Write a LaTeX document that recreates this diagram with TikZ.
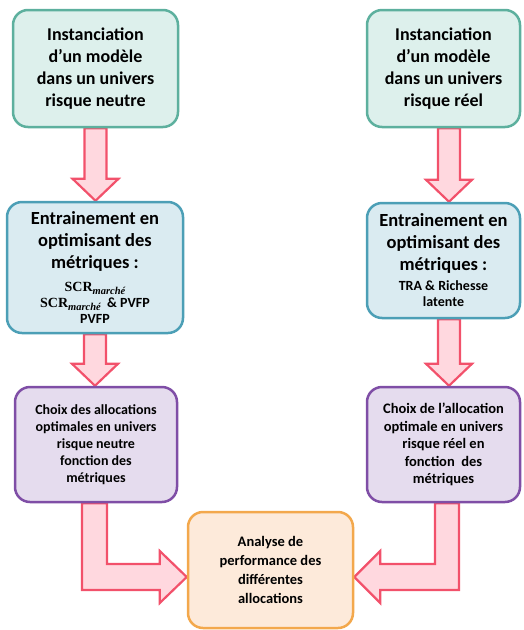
\documentclass[tikz,border=0pt]{standalone}
\usepackage{fontspec}
\setmainfont{Carlito}
\newfontfamily\serifb{Liberation Serif}
\usetikzlibrary{calc,backgrounds}
\definecolor{tealb}{HTML}{5DB09E}
\definecolor{tealf}{HTML}{DDF0EC}
\definecolor{blueb}{HTML}{4C9FB6}
\definecolor{bluef}{HTML}{DAEBF1}
\definecolor{purpb}{HTML}{7F4EA6}
\definecolor{purpf}{HTML}{E5DCEE}
\definecolor{orab}{HTML}{F3A84C}
\definecolor{oraf}{HTML}{FDEADA}
\definecolor{arrb}{HTML}{F2516B}
\definecolor{arrf}{HTML}{FFD8DF}
\newcommand\smallline{\fontsize{14}{16}\selectfont}
\newcommand\scrm{{\serifb\bfseries SCR}\raisebox{-0.45ex}{\serifb\bfseries\itshape\fontsize{10.5}{10.5}\selectfont marché}}
\newcommand\blkdown[3]{%
\draw[barrow] let \p1=(#1.south), \p2=(#2.north) in
 (\x1+#3-11,\y1) -- (\x1+#3-11,\y2+22) -- (\x1+#3-23,\y2+22) -- (\x1+#3,\y2)
 -- (\x1+#3+23,\y2+22) -- (\x1+#3+11,\y2+22) -- (\x1+#3+11,\y1) -- cycle;}
\begin{document}
\begin{tikzpicture}[x=1pt,y=-1pt,
  box/.style={rounded corners=15pt, line width=2.5pt, align=center, inner sep=0pt},
  tealbox/.style={box, draw=tealb, fill=tealf, font=\bfseries\fontsize{18}{22}\selectfont},
  bluebox/.style={box, draw=blueb, fill=bluef, font=\bfseries\fontsize{18.5}{22}\selectfont},
  purpbox/.style={box, draw=purpb, fill=purpf, font=\bfseries\fontsize{14}{17}\selectfont},
  orabox/.style={box, draw=orab, fill=oraf, font=\bfseries\fontsize{14.5}{19}\selectfont},
  barrow/.style={draw=arrb, fill=arrf, line width=2.2pt, line join=miter}]
\path[use as bounding box] (0,0) rectangle (523,630);

\node[tealbox, minimum width=165pt, minimum height=117pt] (b1) at (95.5,68.5)
  {Instanciation\\d’un modèle\\dans un univers\\risque neutre};
\node[tealbox, minimum width=153pt, minimum height=117pt] (b2) at (443.5,68.5)
  {Instanciation\\d’un modèle\\dans un univers\\risque réel};

\node[bluebox, minimum width=176pt, minimum height=131pt] (b3) at (95,267.5)
  {Entrainement en\\optimisant des\\métriques :\\[1pt]
   \smallline\scrm\\[-6pt]\smallline\scrm\ \ \& PVFP\\[-6pt]\smallline PVFP};
\node[bluebox, minimum width=153pt, minimum height=115pt] (b4) at (443.5,260.5)
  {Entrainement en\\optimisant des\\métriques :\\[-2pt]
   \smallline TRA \& Richesse\\[-6pt]\smallline latente};

\node[purpbox, minimum width=162pt, minimum height=115pt] (b5) at (96,444.5)
  {Choix des allocations\\optimales en univers\\risque neutre\\fonction des\\métriques};
\node[purpbox, font=\bfseries\fontsize{14.5}{17.5}\selectfont, minimum width=153pt, minimum height=115pt] (b6) at (443.5,444.5)
  {Choix de l’allocation\\optimale en univers\\risque réel en\\fonction\ \ des\\métriques};

\node[orabox, minimum width=165pt, minimum height=116pt] (b7) at (270.5,570)
  {Analyse de\\performance des\\différentes\\allocations};

\begin{scope}[on background layer]
\blkdown{b1}{b3}{0}
\blkdown{b3}{b5}{0}
\blkdown{b2}{b4}{5.5}
\blkdown{b4}{b6}{5.5}
\draw[barrow] let \p1=(b5.south), \p2=(b7.west) in
  (\x1-14,\y1) -- (\x1-14,\y2-20) -- (\x2-27,\y2-20) -- (\x2-27,\y2-33) -- (\x2,\y2-7)
  -- (\x2-27,\y2+19) -- (\x2-27,\y2+6) -- (\x1+11,\y2+6) -- (\x1+11,\y1) -- cycle;
\draw[barrow] let \p1=(b6.south), \p2=(b7.east) in
  (\x1+15.5,\y1) -- (\x1+15.5,\y2-20) -- (\x2+26,\y2-20) -- (\x2+26,\y2-33) -- (\x2,\y2-7)
  -- (\x2+26,\y2+19) -- (\x2+26,\y2+6) -- (\x1-8.5,\y2+6) -- (\x1-8.5,\y1) -- cycle;
\end{scope}
\end{tikzpicture}
\end{document}
